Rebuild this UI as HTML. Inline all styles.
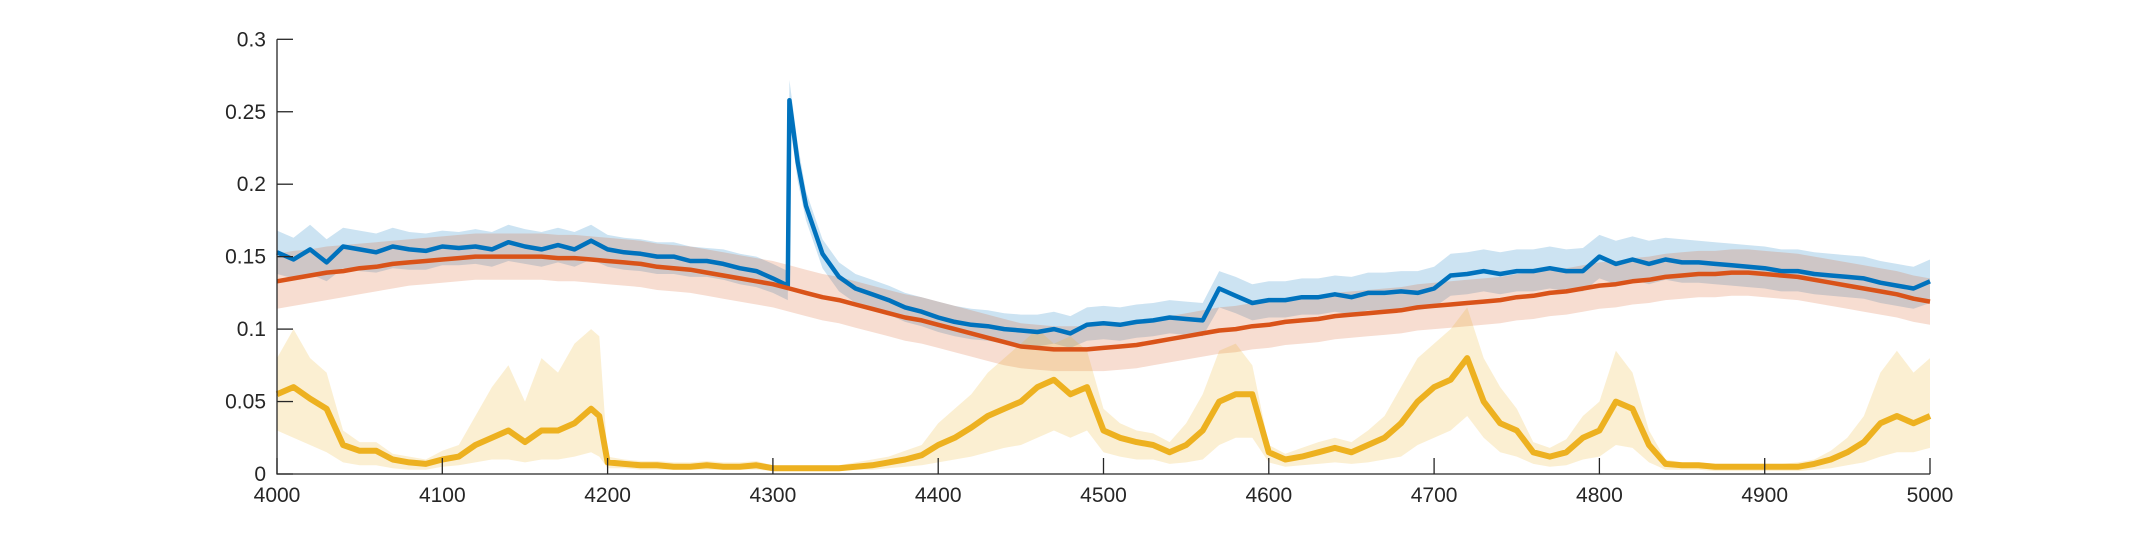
<!DOCTYPE html>
<html><head><meta charset="utf-8">
<style>
html,body{margin:0;padding:0;background:#fff;}
svg{display:block;font-family:"Liberation Sans","DejaVu Sans",sans-serif;}
</style></head>
<body>
<svg id="chart" width="2133" height="533" viewBox="0 0 2133 533" xmlns="http://www.w3.org/2000/svg">
<g id="bands"></g>
<g id="lines"></g>
<g id="axes"></g>
</svg>
<script>
const xs = [4000,4010,4020,4030,4040,4050,4060,4070,4080,4090,4100,4110,4120,4130,4140,4150,4160,4170,4180,4190,4200,4210,4220,4230,4240,4250,4260,4270,4280,4290,4300,4310,4320,4330,4340,4350,4360,4370,4380,4390,4400,4410,4420,4430,4440,4450,4460,4470,4480,4490,4500,4510,4520,4530,4540,4550,4560,4570,4580,4590,4600,4610,4620,4630,4640,4650,4660,4670,4680,4690,4700,4710,4720,4730,4740,4750,4760,4770,4780,4790,4800,4810,4820,4830,4840,4850,4860,4870,4880,4890,4900,4910,4920,4930,4940,4950,4960,4970,4980,4990,5000];
const yellowX = [4000,4010,4020,4030,4040,4050,4060,4070,4080,4090,4100,4110,4120,4130,4140,4150,4160,4170,4180,4190,4195,4200,4210,4220,4230,4240,4250,4260,4270,4280,4290,4300,4310,4320,4330,4340,4350,4360,4370,4380,4390,4400,4410,4420,4430,4440,4450,4460,4470,4480,4490,4500,4510,4520,4530,4540,4550,4560,4570,4580,4590,4600,4610,4620,4630,4640,4650,4660,4670,4680,4690,4700,4710,4720,4730,4740,4750,4760,4770,4780,4790,4800,4810,4820,4830,4840,4850,4860,4870,4880,4890,4900,4910,4920,4930,4940,4950,4960,4970,4980,4990,5000];
const blueX = [4000,4010,4020,4030,4040,4050,4060,4070,4080,4090,4100,4110,4120,4130,4140,4150,4160,4170,4180,4190,4200,4210,4220,4230,4240,4250,4260,4270,4280,4290,4300,4309,4310,4315,4320,4330,4340,4350,4360,4370,4380,4390,4400,4410,4420,4430,4440,4450,4460,4470,4480,4490,4500,4510,4520,4530,4540,4550,4560,4570,4580,4590,4600,4610,4620,4630,4640,4650,4660,4670,4680,4690,4700,4710,4720,4730,4740,4750,4760,4770,4780,4790,4800,4810,4820,4830,4840,4850,4860,4870,4880,4890,4900,4910,4920,4930,4940,4950,4960,4970,4980,4990,5000];
const blueMean = [0.153,0.148,0.155,0.146,0.157,0.155,0.153,0.157,0.155,0.154,0.157,0.156,0.157,0.155,0.160,0.157,0.155,0.158,0.155,0.161,0.155,0.153,0.152,0.150,0.150,0.147,0.147,0.145,0.142,0.140,0.135,0.130,0.258,0.215,0.185,0.152,0.136,0.128,0.124,0.120,0.115,0.112,0.108,0.105,0.103,0.102,0.100,0.099,0.098,0.100,0.097,0.103,0.104,0.103,0.105,0.106,0.108,0.107,0.106,0.128,0.123,0.118,0.120,0.120,0.122,0.122,0.124,0.122,0.125,0.125,0.126,0.125,0.128,0.137,0.138,0.140,0.138,0.140,0.140,0.142,0.140,0.140,0.150,0.145,0.148,0.145,0.148,0.146,0.146,0.145,0.144,0.143,0.142,0.140,0.140,0.138,0.137,0.136,0.135,0.132,0.130,0.128,0.133];
const blueHi = [0.168,0.163,0.172,0.162,0.170,0.168,0.166,0.170,0.167,0.166,0.168,0.167,0.169,0.167,0.172,0.169,0.167,0.170,0.167,0.172,0.165,0.163,0.162,0.160,0.160,0.157,0.156,0.155,0.152,0.150,0.145,0.140,0.272,0.228,0.195,0.162,0.146,0.138,0.134,0.130,0.125,0.122,0.119,0.116,0.114,0.113,0.111,0.110,0.110,0.112,0.109,0.115,0.116,0.115,0.117,0.118,0.120,0.119,0.118,0.140,0.136,0.131,0.133,0.133,0.135,0.135,0.137,0.136,0.139,0.139,0.140,0.140,0.143,0.152,0.153,0.155,0.153,0.155,0.155,0.157,0.155,0.156,0.165,0.161,0.164,0.161,0.163,0.162,0.161,0.160,0.159,0.158,0.157,0.155,0.155,0.153,0.152,0.151,0.150,0.147,0.145,0.143,0.148];
const blueLo = [0.138,0.135,0.138,0.133,0.142,0.140,0.139,0.142,0.141,0.141,0.144,0.144,0.145,0.143,0.147,0.145,0.143,0.146,0.143,0.148,0.143,0.141,0.140,0.138,0.138,0.136,0.136,0.134,0.131,0.129,0.125,0.120,0.245,0.202,0.175,0.142,0.126,0.118,0.114,0.110,0.105,0.102,0.098,0.095,0.093,0.092,0.090,0.089,0.088,0.090,0.087,0.092,0.093,0.092,0.094,0.095,0.097,0.096,0.095,0.115,0.111,0.106,0.108,0.108,0.110,0.110,0.112,0.110,0.113,0.113,0.114,0.113,0.115,0.123,0.124,0.126,0.124,0.126,0.126,0.128,0.126,0.126,0.135,0.131,0.134,0.131,0.134,0.132,0.132,0.131,0.130,0.129,0.128,0.126,0.126,0.124,0.123,0.122,0.121,0.118,0.116,0.114,0.118];
const redMean = [0.133,0.135,0.137,0.139,0.140,0.142,0.143,0.145,0.146,0.147,0.148,0.149,0.150,0.150,0.150,0.150,0.150,0.149,0.149,0.148,0.147,0.146,0.145,0.143,0.142,0.141,0.139,0.137,0.135,0.133,0.131,0.128,0.125,0.122,0.120,0.117,0.114,0.111,0.108,0.106,0.103,0.100,0.097,0.094,0.091,0.088,0.087,0.086,0.086,0.086,0.087,0.088,0.089,0.091,0.093,0.095,0.097,0.099,0.100,0.102,0.103,0.105,0.106,0.107,0.109,0.110,0.111,0.112,0.113,0.115,0.116,0.117,0.118,0.119,0.120,0.122,0.123,0.125,0.126,0.128,0.130,0.131,0.133,0.134,0.136,0.137,0.138,0.138,0.139,0.139,0.138,0.137,0.136,0.134,0.132,0.130,0.128,0.126,0.124,0.121,0.119];
const redHi = [0.152,0.154,0.155,0.157,0.158,0.159,0.160,0.161,0.162,0.163,0.164,0.165,0.166,0.166,0.166,0.166,0.166,0.165,0.165,0.164,0.163,0.162,0.161,0.159,0.158,0.157,0.155,0.153,0.151,0.149,0.147,0.144,0.141,0.138,0.136,0.133,0.130,0.127,0.124,0.122,0.119,0.116,0.113,0.110,0.107,0.104,0.103,0.102,0.102,0.102,0.103,0.104,0.105,0.107,0.109,0.111,0.113,0.115,0.116,0.118,0.119,0.121,0.122,0.123,0.125,0.126,0.127,0.128,0.129,0.131,0.132,0.133,0.134,0.135,0.136,0.138,0.139,0.141,0.142,0.144,0.146,0.147,0.149,0.150,0.152,0.153,0.154,0.154,0.155,0.155,0.154,0.153,0.152,0.150,0.148,0.146,0.144,0.142,0.140,0.137,0.135];
const redLo = [0.114,0.116,0.118,0.120,0.122,0.124,0.126,0.128,0.130,0.131,0.132,0.133,0.134,0.134,0.134,0.134,0.134,0.133,0.133,0.132,0.131,0.130,0.129,0.127,0.126,0.125,0.123,0.121,0.119,0.117,0.115,0.112,0.109,0.106,0.104,0.101,0.098,0.095,0.092,0.090,0.087,0.084,0.081,0.078,0.075,0.073,0.072,0.071,0.071,0.071,0.071,0.072,0.073,0.075,0.077,0.079,0.081,0.083,0.084,0.086,0.087,0.089,0.090,0.091,0.093,0.094,0.095,0.096,0.097,0.099,0.100,0.101,0.102,0.103,0.104,0.106,0.107,0.109,0.110,0.112,0.114,0.115,0.117,0.118,0.120,0.121,0.122,0.122,0.123,0.123,0.122,0.121,0.120,0.118,0.116,0.114,0.112,0.110,0.108,0.105,0.103];
const yellowMean = [0.055,0.060,0.052,0.045,0.020,0.016,0.016,0.010,0.008,0.007,0.010,0.012,0.020,0.025,0.030,0.022,0.030,0.030,0.035,0.045,0.040,0.008,0.007,0.006,0.006,0.005,0.005,0.006,0.005,0.005,0.006,0.004,0.004,0.004,0.004,0.004,0.005,0.006,0.008,0.010,0.013,0.020,0.025,0.032,0.040,0.045,0.050,0.060,0.065,0.055,0.060,0.030,0.025,0.022,0.020,0.015,0.020,0.030,0.050,0.055,0.055,0.015,0.010,0.012,0.015,0.018,0.015,0.020,0.025,0.035,0.050,0.060,0.065,0.080,0.050,0.035,0.030,0.015,0.012,0.015,0.025,0.030,0.050,0.045,0.020,0.007,0.006,0.006,0.005,0.005,0.005,0.005,0.005,0.005,0.007,0.010,0.015,0.022,0.035,0.040,0.035,0.040];
const yellowHi = [0.080,0.100,0.080,0.070,0.030,0.022,0.022,0.014,0.012,0.010,0.016,0.020,0.040,0.060,0.075,0.050,0.080,0.070,0.090,0.100,0.095,0.012,0.010,0.009,0.009,0.008,0.008,0.009,0.008,0.008,0.009,0.006,0.006,0.006,0.006,0.006,0.008,0.010,0.012,0.016,0.020,0.035,0.045,0.055,0.070,0.080,0.090,0.100,0.090,0.095,0.085,0.045,0.035,0.030,0.028,0.022,0.035,0.055,0.085,0.090,0.075,0.020,0.014,0.018,0.022,0.025,0.022,0.030,0.040,0.060,0.080,0.090,0.100,0.115,0.080,0.060,0.045,0.022,0.018,0.024,0.040,0.050,0.085,0.070,0.030,0.010,0.008,0.008,0.007,0.007,0.007,0.007,0.007,0.008,0.010,0.016,0.025,0.040,0.070,0.085,0.070,0.080];
const yellowLo = [0.030,0.025,0.020,0.015,0.008,0.006,0.006,0.004,0.003,0.003,0.005,0.006,0.008,0.010,0.010,0.008,0.010,0.010,0.012,0.015,0.012,0.004,0.004,0.003,0.003,0.003,0.003,0.003,0.003,0.003,0.003,0.002,0.002,0.002,0.002,0.002,0.003,0.003,0.004,0.005,0.006,0.008,0.010,0.012,0.015,0.018,0.020,0.025,0.030,0.025,0.030,0.015,0.012,0.010,0.010,0.007,0.008,0.010,0.020,0.025,0.025,0.008,0.005,0.006,0.007,0.008,0.007,0.008,0.010,0.012,0.020,0.025,0.030,0.040,0.025,0.015,0.012,0.007,0.005,0.006,0.010,0.012,0.020,0.018,0.008,0.003,0.003,0.003,0.002,0.002,0.002,0.002,0.002,0.002,0.003,0.004,0.006,0.008,0.012,0.015,0.015,0.018];
const xTicks = [4000,4100,4200,4300,4400,4500,4600,4700,4800,4900,5000];
const yTicks = [0,0.05,0.1,0.15,0.2,0.25,0.3];
const yTickLabels = ["0","0.05","0.1","0.15","0.2","0.25","0.3"];

const L=277,R=1930,T=39.3,B=474;
function sx(v){return L+(v-4000)/1000*(R-L);}
function sy(v){return B-v/0.3*(B-T);}
const NS="http://www.w3.org/2000/svg";
function mk(tag,parent){const e=document.createElementNS(NS,tag);parent.appendChild(e);return e;}
function linePts(X,Y){return X.map((x,i)=>sx(x).toFixed(1)+","+sy(Y[i]).toFixed(1)).join(" ");}
function bandPts(X,H,Lo){const a=X.map((x,i)=>sx(x).toFixed(1)+","+sy(H[i]).toFixed(1));const b=X.map((x,i)=>sx(x).toFixed(1)+","+sy(Lo[i]).toFixed(1)).reverse();return a.concat(b).join(" ");}

const bands=document.getElementById('bands'), lines=document.getElementById('lines'), axes=document.getElementById('axes');

let p=mk('polygon',bands);


p.setAttribute('points',bandPts(blueX,blueHi,blueLo));p.setAttribute('fill','#0072BD');p.setAttribute('fill-opacity','0.2');
p=mk('polygon',bands);


p.setAttribute('points',bandPts(xs,redHi,redLo));p.setAttribute('fill','#D95319');p.setAttribute('fill-opacity','0.2');
p=mk('polygon',bands);


p.setAttribute('points',bandPts(yellowX,yellowHi,yellowLo));p.setAttribute('fill','#EDB120');p.setAttribute('fill-opacity','0.2');

let l=mk('polyline',lines);


l.setAttribute('points',linePts(blueX,blueMean));l.setAttribute('fill','none');l.setAttribute('stroke','#0072BD');l.setAttribute('stroke-width','4.5');l.setAttribute('stroke-linejoin','round');
l=mk('polyline',lines);


l.setAttribute('points',linePts(xs,redMean));l.setAttribute('fill','none');l.setAttribute('stroke','#D95319');l.setAttribute('stroke-width','4.5');l.setAttribute('stroke-linejoin','round');
l=mk('polyline',lines);


l.setAttribute('points',linePts(yellowX,yellowMean));l.setAttribute('fill','none');l.setAttribute('stroke','#EDB120');l.setAttribute('stroke-width','6');l.setAttribute('stroke-linejoin','round');

let ax=mk('path',axes);


ax.setAttribute('d',`M${L},${T}V${B}H${R}`);ax.setAttribute('fill','none');ax.setAttribute('stroke','#262626');ax.setAttribute('stroke-width','1.3');
yTicks.forEach((v,i)=>{
  const t=mk('line',axes);
  
  
  t.setAttribute('x1',L);t.setAttribute('x2',L+16);t.setAttribute('y1',sy(v));t.setAttribute('y2',sy(v));t.setAttribute('stroke','#262626');t.setAttribute('stroke-width','1.3');
  const tx=mk('text',axes);
  
  
  tx.setAttribute('x',L-11);tx.setAttribute('y',sy(v)+7);tx.setAttribute('text-anchor','end');tx.setAttribute('font-size','21');tx.setAttribute('fill','#262626');
  tx.textContent=yTickLabels[i];
});
xTicks.forEach(v=>{
  const t=mk('line',axes);
  
  
  t.setAttribute('x1',sx(v));t.setAttribute('x2',sx(v));t.setAttribute('y1',B);t.setAttribute('y2',B-16);t.setAttribute('stroke','#262626');t.setAttribute('stroke-width','1.3');
  const tx=mk('text',axes);
  
  
  tx.setAttribute('x',sx(v));tx.setAttribute('y',B+28);tx.setAttribute('text-anchor','middle');tx.setAttribute('font-size','21');tx.setAttribute('fill','#262626');
  tx.textContent=String(v);
});
</script>
</body></html>
